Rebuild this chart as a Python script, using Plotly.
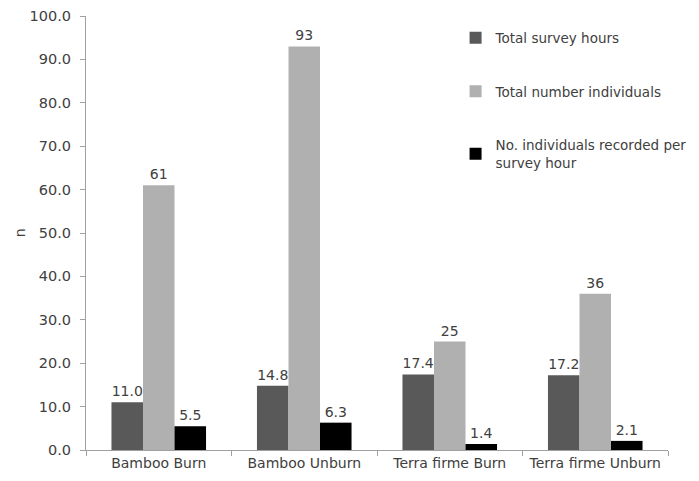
import plotly.graph_objects as go

categories = ["Bamboo Burn", "Bamboo Unburn", "Terra firme Burn", "Terra firme Unburn"]
survey_hours = [11.0, 14.8, 17.4, 17.2]
total_individuals = [61, 93, 25, 36]
per_hour = [5.5, 6.3, 1.4, 2.1]

FONT = "DejaVu Sans"
TXT = "#404040"

series = [
    ("Total survey hours", survey_hours, "#595959", [f"{v:.1f}" for v in survey_hours]),
    ("Total number individuals", total_individuals, "#b0b0b0", [f"{v:d}" for v in total_individuals]),
    ("No. individuals recorded per<br>survey hour", per_hour, "#000000", [f"{v:.1f}" for v in per_hour]),
]

fig = go.Figure()
for i, (name, vals, color, txt) in enumerate(series):
    fig.add_trace(go.Bar(
        x=categories, y=vals, name=name, marker=dict(color=color, line=dict(width=0)),
        text=txt, textposition="outside", cliponaxis=False,
        textfont=dict(family=FONT, size=14, color=TXT),
        legendgroup=f"g{i}",
    ))

# page body adds ~8px offset; compensate
fig.update_layout(
    width=691, height=473,
    margin=dict(l=78, r=31, t=8, b=31, autoexpand=False),
    paper_bgcolor="white", plot_bgcolor="white",
    barmode="group", bargap=0.35, bargroupgap=0,
    font=dict(family=FONT, size=14, color=TXT),
    showlegend=True,
    legend=dict(x=0.635, y=0.985, xanchor="left", yanchor="top",
                font=dict(family=FONT, size=13.5, color=TXT),
                tracegroupgap=33, itemwidth=30, bgcolor="rgba(0,0,0,0)"),
    xaxis=dict(showline=True, linecolor="#a0a0a0", linewidth=1, ticks="outside",
               tickson="boundaries", ticklen=5, tickcolor="#a0a0a0", automargin=False,
               tickfont=dict(family=FONT, size=14, color=TXT)),
    yaxis=dict(range=[0, 100], dtick=10, tickformat=".1f", showgrid=False,
               showline=True, linecolor="#a0a0a0", linewidth=1, ticks="outside",
               ticklen=5, tickcolor="#a0a0a0", zeroline=False, automargin=False,
               ticklabelstandoff=6,
               tickfont=dict(family=FONT, size=14.5, color=TXT)),
    annotations=[dict(text="n", xref="paper", yref="paper", x=-0.113, y=0.5,
                      xanchor="center", yanchor="middle", textangle=-90, showarrow=False,
                      font=dict(family=FONT, size=14, color=TXT))],
)

fig.write_html("out.html")
